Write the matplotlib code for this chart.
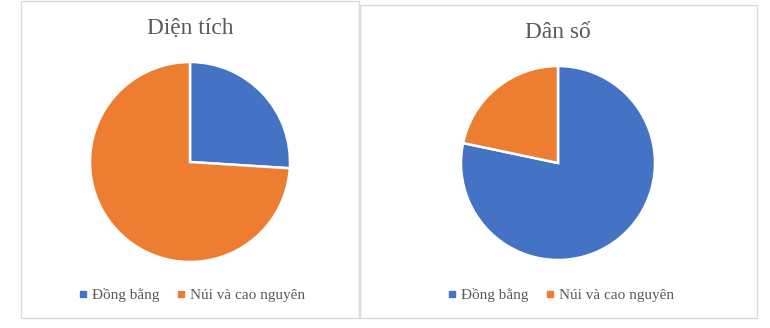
import matplotlib
matplotlib.use("Agg")
import matplotlib.pyplot as plt
from matplotlib.patches import Rectangle
from matplotlib.lines import Line2D

categories = ["Đồng bằng", "Núi và cao nguyên"]
dien_tich = [26, 74]
dan_so = [78.3, 21.7]
titles = ["Diện tích", "Dân số"]
colors = ["#4472C4", "#ED7D31"]

W, H = 770, 328
plt.rcParams['font.family'] = ['Liberation Serif', 'DejaVu Serif']
fig = plt.figure(figsize=(W / 100, H / 100), dpi=100)

def fx(x):
    return x / W

def fy(y):
    return 1 - y / H

# chart boxes
for (x0, y0, x1, y1) in [(21, 1, 359, 318), (360, 5, 757, 318)]:
    fig.add_artist(Rectangle((fx(x0), fy(y1)), fx(x1 - x0), (y1 - y0) / H,
                             transform=fig.transFigure, fill=False,
                             edgecolor="#D9D9D9", linewidth=1))

pies = [
    dict(vals=dien_tich, cx=190, cy=162, r=100, title=titles[0], ty=28, lx=192),
    dict(vals=dan_so, cx=558, cy=163, r=97, title=titles[1], ty=33, lx=561),
]

for p in pies:
    ax = fig.add_axes([fx(p["cx"] - p["r"]), fy(p["cy"] + p["r"]),
                       2 * p["r"] / W, 2 * p["r"] / H])
    ax.pie(p["vals"], colors=colors, startangle=90, counterclock=False,
           wedgeprops=dict(edgecolor="white", linewidth=1.8))
    ax.set_xlim(-1, 1)
    ax.set_ylim(-1, 1)
    ax.set_aspect("equal")
    ax.axis("off")
    fig.text(fx(p["cx"]), fy(p["ty"]), p["title"], ha="center", va="center",
             fontsize=16.8, color="#595959")
    handles = [Line2D([], [], marker="s", linestyle="none", markersize=4.5,
                      markerfacecolor=c, markeredgecolor=c) for c in colors]
    fig.legend(handles, categories, ncol=2, loc="center",
               bbox_to_anchor=(fx(p["lx"]), fy(295)), frameon=False,
               handlelength=0.6, handletextpad=0.3, columnspacing=1.1,
               fontsize=11, labelcolor="#595959")

fig.savefig("out.png", dpi=100)
